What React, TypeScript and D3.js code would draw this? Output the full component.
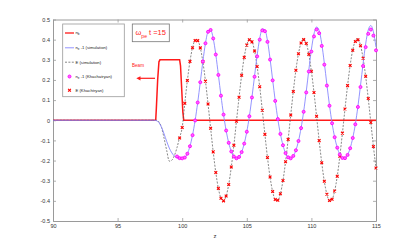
import React, { useEffect, useRef } from 'react';
import * as d3 from 'd3';

// axis ticks
const ticksX = [90, 95, 100, 105, 110, 115];
const ticksY = [-0.5, -0.4, -0.3, -0.2, -0.1, 0, 0.1, 0.2, 0.3, 0.4, 0.5];

// beam density n_b
const beamZ = [90, 97.95, 98.0, 98.1, 98.2, 98.28, 99.8, 99.87, 99.95, 100.05, 100.12, 115];
const beamN = [0, 0, 0.06, 0.2, 0.29, 0.3, 0.3, 0.27, 0.17, 0.04, 0, 0];

// simulation curves
const simZ = [90, 97.6, 97.8, 98, 98.2, 98.4, 98.6, 98.8, 99, 99.2, 99.4, 99.6, 99.8,
  100, 100.2, 100.4, 100.6, 100.8, 101, 101.2, 101.4, 101.6, 101.8,
  102, 102.2, 102.4, 102.6, 102.8, 103, 103.2, 103.4, 103.6, 103.8,
  104, 104.2, 104.4, 104.6, 104.8, 105, 105.2, 105.4, 105.6, 105.8,
  106, 106.2, 106.4, 106.6, 106.8, 107, 107.2, 107.4, 107.6, 107.8,
  108, 108.2, 108.4, 108.6, 108.8, 109, 109.2, 109.4, 109.6, 109.8,
  110, 110.2, 110.4, 110.6, 110.8, 111, 111.2, 111.4, 111.6, 111.8,
  112, 112.2, 112.4, 112.6, 112.8, 113, 113.2, 113.4, 113.6, 113.8,
  114, 114.2, 114.4, 114.6, 114.8, 115];
const simNe = [0, 0, 0, -0.002, -0.012, -0.035, -0.068, -0.105, -0.138, -0.162, -0.178, -0.186, -0.19,
  -0.189, -0.185, -0.166, -0.129, -0.074, -0.001, 0.088, 0.189, 0.292, 0.382,
  0.439, 0.448, 0.406, 0.326, 0.225, 0.122, 0.028, -0.051, -0.112, -0.155,
  -0.180, -0.189, -0.182, -0.158, -0.116, -0.057, 0.020, 0.115, 0.219, 0.322,
  0.406, 0.453, 0.449, 0.395, 0.305, 0.201, 0.097, 0.006, -0.068, -0.124,
  -0.163, -0.184, -0.189, -0.177, -0.149, -0.103, -0.039, 0.043, 0.142, 0.249,
  0.351, 0.428, 0.463, 0.445, 0.380, 0.284, 0.177, 0.074, -0.015, -0.084,
  -0.136, -0.170, -0.187, -0.188, -0.172, -0.139, -0.088, -0.020, 0.069, 0.172,
  0.281, 0.379, 0.448, 0.470, 0.439, 0.363];
const simE = [0, 0, 0, 0, -0.008, -0.035, -0.09, -0.15, -0.203, -0.198, -0.175, -0.135, -0.085,
  -0.036, 0.084, 0.197, 0.292, 0.360, 0.397, 0.396, 0.359, 0.290, 0.194,
  0.081, -0.040, -0.157, -0.259, -0.338, -0.387, -0.400, -0.376, -0.319, -0.232,
  -0.124, -0.005, 0.114, 0.223, 0.313, 0.375, 0.402, 0.391, 0.344, 0.267,
  0.166, 0.050, -0.070, -0.185, -0.282, -0.354, -0.394, -0.398, -0.365, -0.299,
  -0.206, -0.095, 0.026, 0.143, 0.249, 0.331, 0.385, 0.404, 0.383, 0.327,
  0.243, 0.138, 0.020, -0.101, -0.211, -0.303, -0.368, -0.400, -0.392, -0.351,
  -0.278, -0.179, -0.064, 0.056, 0.172, 0.273, 0.349, 0.394, 0.406, 0.372,
  0.308, 0.218, 0.108, -0.011, -0.130, -0.237];

// Khachatryan markers
const khZ = [99.6, 99.8,
  100, 100.2, 100.4, 100.6, 100.8, 101, 101.2, 101.4, 101.6, 101.8,
  102, 102.2, 102.4, 102.6, 102.8, 103, 103.2, 103.4, 103.6, 103.8,
  104, 104.2, 104.4, 104.6, 104.8, 105, 105.2, 105.4, 105.6, 105.8,
  106, 106.2, 106.4, 106.6, 106.8, 107, 107.2, 107.4, 107.6, 107.8,
  108, 108.2, 108.4, 108.6, 108.8, 109, 109.2, 109.4, 109.6, 109.8,
  110, 110.2, 110.4, 110.6, 110.8, 111, 111.2, 111.4, 111.6, 111.8,
  112, 112.2, 112.4, 112.6, 112.8, 113, 113.2, 113.4, 113.6, 113.8,
  114, 114.2, 114.4, 114.6, 114.8, 115];
const khNe = [-0.18, -0.188,
  -0.189, -0.185, -0.166, -0.129, -0.074, -0.001, 0.088, 0.189, 0.292, 0.382,
  0.439, 0.448, 0.406, 0.326, 0.225, 0.122, 0.028, -0.051, -0.112, -0.155,
  -0.180, -0.189, -0.182, -0.158, -0.116, -0.057, 0.020, 0.113, 0.216, 0.317,
  0.400, 0.446, 0.442, 0.389, 0.301, 0.198, 0.096, 0.006, -0.068, -0.124,
  -0.163, -0.184, -0.189, -0.177, -0.149, -0.103, -0.039, 0.042, 0.138, 0.242,
  0.341, 0.416, 0.450, 0.432, 0.369, 0.276, 0.172, 0.072, -0.015, -0.084,
  -0.136, -0.170, -0.187, -0.188, -0.172, -0.139, -0.088, -0.020, 0.066, 0.165,
  0.269, 0.363, 0.429, 0.450, 0.420, 0.347];
const khE = [null, -0.088,
  -0.036, 0.084, 0.197, 0.292, 0.360, 0.396, 0.395, 0.359, 0.290, 0.194,
  0.081, -0.040, -0.157, -0.259, -0.338, -0.387, -0.400, -0.376, -0.319, -0.232,
  -0.124, -0.005, 0.114, 0.223, 0.312, 0.373, 0.399, 0.389, 0.344, 0.267,
  0.166, 0.050, -0.070, -0.185, -0.282, -0.354, -0.393, -0.397, -0.365, -0.299,
  -0.206, -0.095, 0.026, 0.143, 0.248, 0.330, 0.383, 0.400, 0.381, 0.327,
  0.243, 0.138, 0.020, -0.101, -0.211, -0.303, -0.367, -0.398, -0.392, -0.351,
  -0.278, -0.179, -0.064, 0.056, 0.172, 0.272, 0.347, 0.391, 0.399, 0.370,
  0.308, 0.218, 0.108, -0.011, -0.130, -0.237];

const W = 415, H = 249;
const left = 53, right = 376, top = 19.5, bottom = 221;
const FONT = '"Liberation Sans", Arial, sans-serif';

const RED = '#ff1a1a';
const BLUE = '#8888ff';
const MAG = '#ff00ff';

const App = () => {
  const axRef = useRef<SVGGElement>(null);

  const x = d3.scaleLinear().domain([90, 115]).range([left, right]);
  const y = d3.scaleLinear().domain([-0.5, 0.5]).range([bottom, top]);

  useEffect(() => {
    const g = d3.select(axRef.current);
    g.selectAll('*').remove();

    const fmt = (d: any) => String(Math.round(d * 10) / 10);

    g.append('g')
      .attr('transform', `translate(0,${bottom})`)
      .call(d3.axisBottom(x).tickValues(ticksX).tickSizeInner(-3).tickSizeOuter(0).tickPadding(3.5).tickFormat(fmt));
    g.append('g')
      .attr('transform', `translate(0,${top})`)
      .call(d3.axisTop(x).tickValues(ticksX).tickSizeInner(-3).tickSizeOuter(0).tickFormat(() => ''));
    g.append('g')
      .attr('transform', `translate(${left},0)`)
      .call(d3.axisLeft(y).tickValues(ticksY).tickSizeInner(-3).tickSizeOuter(0).tickPadding(3).tickFormat(fmt));
    g.append('g')
      .attr('transform', `translate(${right},0)`)
      .call(d3.axisRight(y).tickValues(ticksY).tickSizeInner(-3).tickSizeOuter(0).tickFormat(() => ''));

    g.selectAll('path.domain').attr('stroke', '#9a9a9a').attr('stroke-width', 1);
    g.selectAll('.tick line').attr('stroke', '#9a9a9a').attr('stroke-width', 0.8);
    g.selectAll('.tick text')
      .attr('fill', '#333')
      .attr('font-size', 5.5)
      .attr('font-family', FONT);
  }, []);

  const lineGen = d3.line<[number, number]>()
    .x(d => x(d[0]))
    .y(d => y(d[1]))
    .curve(d3.curveMonotoneX);
  const beamLine = d3.line<[number, number]>()
    .x(d => x(d[0]))
    .y(d => y(d[1]));

  const beamPts = beamZ.map((z, i) => [z, beamN[i]] as [number, number]);
  const nePts = simZ.map((z, i) => [z, simNe[i]] as [number, number]);
  const ePts = simZ.map((z, i) => [z, simE[i]] as [number, number]);
  const khNePts = khZ.map((z, i) => [z, khNe[i]] as [number, number]);
  const khEPts = khZ
    .map((z, i) => [z, khE[i]])
    .filter(d => d[1] !== null) as [number, number][];

  const xMark = (cx: number, cy: number, r: number, key: any) => (
    <path key={key} d={`M${cx - r},${cy - r}L${cx + r},${cy + r}M${cx - r},${cy + r}L${cx + r},${cy - r}`}
      stroke="#ff0000" strokeWidth={1.1} fill="none" />
  );

  const legendRows = [33, 47.8, 62.2, 76.5, 90.3];
  const lx0 = 65, lx1 = 74, tx = 75.5;

  return (
    <div style={{ position: 'absolute', left: 0, top: 0 }}>
      <svg width={W} height={H} style={{ display: 'block', background: '#fff' }} fontFamily={FONT}>
        <rect x={left} y={top} width={right - left} height={bottom - top} fill="#fff" />
        <g ref={axRef} />

        <path d={beamLine(beamPts) || ''} fill="none" stroke={RED} strokeWidth={1.5} />
        <path d={lineGen(ePts) || ''} fill="none" stroke="#555" strokeWidth={0.7} strokeDasharray="2,1.4" />
        <path d={lineGen(nePts) || ''} fill="none" stroke={BLUE} strokeWidth={0.9} />

        {khEPts.map((d, i) => xMark(x(d[0]), y(d[1]), 1.4, 'e' + i))}
        {khNePts.map((d, i) => (
          <circle key={'n' + i} cx={x(d[0])} cy={y(d[1])} r={1.5} fill="#ff66ff" stroke={MAG} strokeWidth={0.9} />
        ))}

        {/* legend */}
        <rect x={62.7} y={24} width={61.6} height={72.7} fill="#fff" stroke="#9a9a9a" strokeWidth={0.8} />
        <line x1={lx0} x2={lx1} y1={legendRows[0]} y2={legendRows[0]} stroke={RED} strokeWidth={1.3} />
        <line x1={lx0} x2={lx1} y1={legendRows[1]} y2={legendRows[1]} stroke={BLUE} strokeWidth={0.9} />
        <line x1={lx0} x2={lx1} y1={legendRows[2]} y2={legendRows[2]} stroke="#555" strokeWidth={0.7} strokeDasharray="2,1.4" />
        <circle cx={(lx0 + lx1) / 2} cy={legendRows[3]} r={1.5} fill="#ff66ff" stroke={MAG} strokeWidth={0.9} />
        {xMark((lx0 + lx1) / 2, legendRows[4], 1.4, 'lx')}
        <g fontSize={4.2} fill="#222">
          <text x={tx} y={legendRows[0] + 1.2}>n<tspan fontSize={3} dy={1.2}>b</tspan></text>
          <text x={tx} y={legendRows[1] + 1.2}>n<tspan fontSize={3} dy={1.2}>e</tspan><tspan dy={-1.2}> -1 (simulation)</tspan></text>
          <text x={tx} y={legendRows[2] + 1.4}>E (simulation)</text>
          <text x={tx} y={legendRows[3] + 1.2}>n<tspan fontSize={3} dy={1.2}>e</tspan><tspan dy={-1.2}> -1 (Khachatryan)</tspan></text>
          <text x={tx} y={legendRows[4] + 1.4}>E (Khachtryan)</text>
        </g>

        {/* annotation */}
        <rect x={132.3} y={24} width={37} height={17.7} fill="#fff" stroke="#777" strokeWidth={0.8} />
        <text x={135.5} y={35} fontSize={7.5} fill={RED}>ω<tspan fontSize={5} dy={2.5}>pe</tspan><tspan dy={-2.5}> t =15</tspan></text>

        <text x={132} y={66.5} fontSize={4.6} fill={RED}>Beam</text>
        <line x1={155} x2={139} y1={78.3} y2={78.3} stroke={RED} strokeWidth={1.2} />
        <path d="M136.3,78.3L140.5,76.2L140.5,80.4Z" fill={RED} />

        <text x={215} y={238} fontSize={6} fill="#333" textAnchor="middle">z</text>
      </svg>
    </div>
  );
};

export default App;
